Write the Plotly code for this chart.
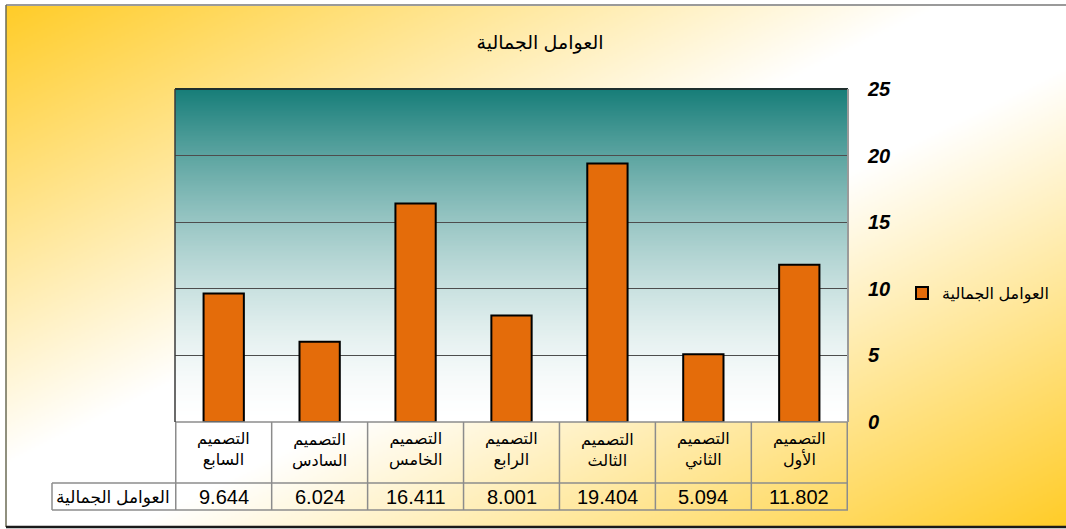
import base64, struct, zlib
import numpy as np
import plotly.graph_objects as go

# ---------------- data ----------------
title_text = "العوامل الجمالية"
series_name = "العوامل الجمالية"
categories = ["التصميم الأول", "التصميم الثاني", "التصميم الثالث", "التصميم الرابع",
              "التصميم الخامس", "التصميم السادس", "التصميم السابع"]
values = [11.802, 5.094, 19.404, 8.001, 16.411, 6.024, 9.644]
y_ticks = [0, 5, 10, 15, 20, 25]

# ---------------- layout geometry (pixels) ----------------
W, H = 1066, 529
L, R, T, B = 175, 848, 89, 422
PW, PH = R - L, B - T


def px_x(x):
    return (x - L) / PW


def px_y(y):
    return (B - y) / PH


def png_uri(arr):
    h, w, _ = arr.shape
    raw = b"".join(b"\x00" + arr[i].tobytes() for i in range(h))

    def chunk(tag, data):
        return (struct.pack(">I", len(data)) + tag + data +
                struct.pack(">I", zlib.crc32(tag + data) & 0xffffffff))

    png = (b"\x89PNG\r\n\x1a\n" +
           chunk(b"IHDR", struct.pack(">IIBBBBB", w, h, 8, 2, 0, 0, 0)) +
           chunk(b"IDAT", zlib.compress(raw, 9)) + chunk(b"IEND", b""))
    return "data:image/png;base64," + base64.b64encode(png).decode()


# chart background: diagonal gold gradient (gold corners, white diagonal)
bw, bh = 530, 261
gx = np.linspace(0, 1, bw)[None, :]
gy = np.linspace(0, 1, bh)[:, None]
d = np.abs(gx + gy - 1.0)
f = np.clip((d - 0.12) / 0.88, 0, 1)[..., None]
gold = np.array([255, 204, 40], float)
white = np.array([255, 255, 255], float)
bg = (white * (1 - f) + gold * f).round().astype(np.uint8)
bg_uri = png_uri(bg)

# plot area background: teal to white vertical gradient
ph = 200
t = np.linspace(1, 0, ph)[:, None, None]
ft = t ** 1.6
teal = np.array([23, 126, 121], float)
pa = (white * (1 - ft) + teal * ft).round().astype(np.uint8)
pa = np.repeat(pa, 4, axis=1)
pa_uri = png_uri(pa)

fig = go.Figure()
fig.add_trace(go.Bar(
    x=categories, y=values, name=series_name,
    marker=dict(color="#E46C0A", line=dict(color="black", width=2)),
    hoverinfo="x+y",
))

images = [
    dict(source=bg_uri, xref="paper", yref="paper",
         x=px_x(6), y=px_y(5), sizex=(W - 6) / PW, sizey=(527 - 5) / PH,
         xanchor="left", yanchor="top", sizing="stretch", layer="below"),
    dict(source=pa_uri, xref="paper", yref="paper",
         x=0, y=1, sizex=1, sizey=1,
         xanchor="left", yanchor="top", sizing="stretch", layer="below"),
]

shapes = []
grey = "#8c8c8c"
row1 = px_y(483)
row2 = px_y(510)
# data table horizontal lines
shapes.append(dict(type="line", xref="paper", yref="paper", x0=0, x1=1, y0=0, y1=0,
                   line=dict(color=grey, width=1.5)))
for yy in (row1, row2):
    shapes.append(dict(type="line", xref="paper", yref="paper", x0=px_x(52), x1=1,
                       y0=yy, y1=yy, line=dict(color=grey, width=1.5)))
# data table vertical lines at category boundaries
for i in range(len(categories) + 1):
    shapes.append(dict(type="line", xref="x", yref="paper", x0=i - 0.5, x1=i - 0.5,
                       y0=0, y1=row2, line=dict(color=grey, width=1.5)))
shapes.append(dict(type="line", xref="paper", yref="paper", x0=px_x(52), x1=px_x(52),
                   y0=row1, y1=row2, line=dict(color=grey, width=1.5)))
# plot area borders
shapes.append(dict(type="line", xref="paper", yref="paper", x0=0, x1=1, y0=1, y1=1,
                   line=dict(color="#1f2f2e", width=2)))
shapes.append(dict(type="line", xref="paper", yref="paper", x0=0, x1=0, y0=0, y1=1,
                   line=dict(color="#3a3a3a", width=1.5)))
shapes.append(dict(type="line", xref="paper", yref="paper", x0=1, x1=1, y0=0, y1=1,
                   line=dict(color="#9a9a9a", width=2)))
# chart outer border
shapes.append(dict(type="line", xref="paper", yref="paper", x0=px_x(6), x1=px_x(W),
                   y0=px_y(5), y1=px_y(5), line=dict(color="#9a9a9a", width=2)))
shapes.append(dict(type="line", xref="paper", yref="paper", x0=px_x(6), x1=px_x(6),
                   y0=px_y(5), y1=px_y(527), line=dict(color="#6b6b55", width=1.5)))
shapes.append(dict(type="line", xref="paper", yref="paper", x0=px_x(6), x1=px_x(W),
                   y0=px_y(527), y1=px_y(527), line=dict(color="#1a1a1a", width=2.5)))

annotations = []
ar_font = "Arial, Liberation Sans, DejaVu Sans, sans-serif"
for c, v in zip(categories, values):
    annotations.append(dict(x=c, xref="x", y=px_y(450), yref="paper",
                            text=c.replace(" ", "<br>"), showarrow=False,
                            font=dict(family=ar_font, size=16, color="black"),
                            xanchor="center", yanchor="middle"))
    annotations.append(dict(x=c, xref="x", y=px_y(497), yref="paper",
                            text=f"{v:.3f}", showarrow=False,
                            font=dict(family=ar_font, size=20, color="black"),
                            xanchor="center", yanchor="middle"))
annotations.append(dict(x=px_x(113), xref="paper", y=px_y(497), yref="paper",
                        text=series_name, showarrow=False,
                        font=dict(family=ar_font, size=17, color="black"),
                        xanchor="center", yanchor="middle"))

fig.update_layout(
    width=W, height=H,
    margin=dict(l=L, r=W - R, t=T, b=H - B, pad=0),
    paper_bgcolor="white", plot_bgcolor="rgba(0,0,0,0)",
    title=dict(text=title_text, x=540 / W, xref="container", xanchor="center",
               y=1 - 42 / H, yref="container", yanchor="middle",
               font=dict(family=ar_font, size=19, color="black")),
    bargap=0.58,
    showlegend=True,
    legend=dict(x=px_x(902), y=px_y(293), xanchor="left", yanchor="middle",
                bgcolor="rgba(0,0,0,0)", font=dict(family=ar_font, size=16, color="black")),
    images=images, shapes=shapes, annotations=annotations,
)
fig.update_xaxes(type="category", autorange="reversed", showticklabels=False,
                 showgrid=False, zeroline=False, showline=False, ticks="")
fig.update_yaxes(range=[0, 25], tickvals=y_ticks, side="right", showgrid=True,
                 gridcolor="#4d4d4d", gridwidth=1, zeroline=False, showline=False,
                 ticks="", ticklabelstandoff=19,
                 tickfont=dict(family="Arial, Liberation Sans, sans-serif", size=20,
                               color="black", weight="bold", style="italic"))

fig.write_html("out.html")
